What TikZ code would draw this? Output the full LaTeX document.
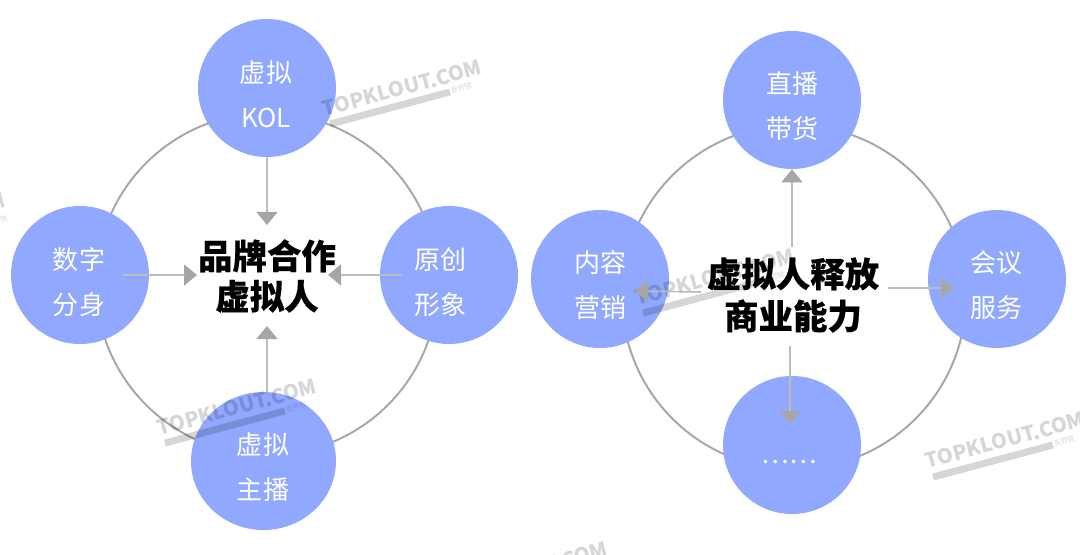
\documentclass[tikz,border=0pt]{standalone}
\usepackage{fontspec}
\setmainfont{Noto Sans CJK SC}
\newfontfamily\heavyfont[BoldFeatures={FakeBold=.35}]{Noto Sans CJK SC}
\usetikzlibrary{arrows.meta,shapes.geometric}
\definecolor{ballblue}{HTML}{91A8FF}
\definecolor{ringgray}{HTML}{A6A6A6}
\definecolor{shaftgray}{HTML}{BDBDBD}
\definecolor{markgray}{HTML}{D6D6D6}
\tikzset{
	ring/.style={circle,draw=ringgray,line width=1.1pt,inner sep=0pt},
	ball/.style={ellipse,fill=ballblue,inner sep=0pt,minimum width=2.76cm,minimum height=2.76cm},
	balltext/.style={text=white,align=center,font=\fontsize{14.8}{25.6}\selectfont},
	bigtitle/.style={text=black,align=center,font=\fontsize{19.6}{24}\selectfont\heavyfont\bfseries},
	stamp/.style={text=markgray,rotate=15,inner sep=0pt,font=\fontsize{11.6}{13}\selectfont\bfseries},
	stampbar/.style={fill=markgray,rotate=15,inner sep=0pt,minimum width=2.48cm,minimum height=.14cm},
	stampname/.style={text=markgray,rotate=15,inner sep=0pt,font=\fontsize{4}{5}\selectfont},
	flow/.style={draw=shaftgray,line width=.9pt,-{Triangle[length=.26cm,width=.42cm,color=ringgray]}}
}
\begin{document}
\begin{tikzpicture}
	\useasboundingbox (0,0) rectangle (21.6,11.08);
	% left diagram
	\node[ring,minimum size=6.84cm] (brandring) at (5.34,5.40) {};
	\node[ball] (kol) at (5.34,9.32) {};
	\node[ball] (twin) at (1.60,5.58) {};
	\node[ball] (ip) at (8.98,5.58) {};
	\node[ball,minimum width=2.90cm] (host) at (5.27,1.86) {};
	% right diagram
	\node[ring,minimum size=6.88cm] (powerring) at (15.88,5.14) {};
	\node[ball] (live) at (15.84,9.08) {};
	\node[ball] (content) at (12.00,5.50) {};
	\node[ball] (meeting) at (19.94,5.50) {};
	\node[ball] (more) at (15.84,2.18) {};
	% watermarks
	\begin{scope}[blend mode=multiply]
		\node[stamp] (stampa) at (8.04,9.32) {TOPKLOUT.COM};
		\node[stampbar] (stampabar) at (7.80,8.92) {};
		\node[stampname] (stampaname) at (9.22,9.32) {克劳锐};
		\node[stamp] (stampb) at (4.74,2.94) {TOPKLOUT.COM};
		\node[stampbar] (stampbbar) at (4.50,2.54) {};
		\node[stampname] (stampbname) at (5.92,2.94) {克劳锐};
		\node[stamp] (stampc) at (14.30,5.54) {TOPKLOUT.COM};
		\node[stampbar] (stampcbar) at (14.06,5.14) {};
		\node[stampname] (stampcname) at (15.48,5.54) {克劳锐};
		\node[stamp] (stampd) at (20.10,2.28) {TOPKLOUT.COM};
		\node[stampbar] (stampdbar) at (19.86,1.86) {};
		\node[stampname] (stampdname) at (21.28,2.26) {克劳锐};
		\node[stamp] (stampe) at (10.56,-.32) {TOPKLOUT.COM};
		\node[stamp] (stampf) at (-1.48,6.66) {TOPKLOUT.COM};
		\node[stampname] (stampfname) at (-.06,6.66) {克劳锐};
	\end{scope}
	% free arrow ends
	\coordinate (kolend) at (5.34,6.58);
	\coordinate (twinstart) at (2.46,5.58);
	\coordinate (twinend) at (3.94,5.58);
	\coordinate (ipstart) at (8.04,5.58);
	\coordinate (ipend) at (6.56,5.58);
	\coordinate (hoststart) at (5.34,3.24);
	\coordinate (hostend) at (5.34,4.56);
	\coordinate (livestart) at (15.84,6.14);
	\coordinate (contentstart) at (14.02,5.24);
	\coordinate (contentend) at (12.70,5.26);
	\coordinate (meetingstart) at (17.75,5.32);
	\coordinate (meetingend) at (19.08,5.32);
	\coordinate (morestart) at (15.80,4.16);
	\coordinate (moreend) at (15.80,2.60);
	\draw[flow] (kol.south) -- (kolend);
	\draw[flow] (twinstart) -- (twinend);
	\draw[flow] (ipstart) -- (ipend);
	\draw[flow] (hoststart) -- (hostend);
	\draw[flow] (livestart) -- (live.south);
	\draw[flow] (contentstart) -- (contentend);
	\draw[flow] (meetingstart) -- (meetingend);
	\draw[flow] (morestart) -- (moreend);
	% texts
	\node[balltext] (koltext) at (5.32,9.19) {虚拟\\KOL};
	\node[balltext] (twintext) at (1.58,5.44) {数字\\分身};
	\node[balltext] (iptext) at (8.81,5.44) {原创\\形象};
	\node[balltext] (hosttext) at (5.26,1.74) {虚拟\\主播};
	\node[balltext] (livetext) at (15.84,8.95) {直播\\带货};
	\node[balltext] (contenttext) at (12.00,5.38) {内容\\营销};
	\node[balltext] (meetingtext) at (19.92,5.38) {会议\\服务};
	\node[balltext] (moretext) at (15.78,1.84) {……};
	\node[bigtitle] (brandtitle) at (5.34,5.56) {品牌合作\\[-1pt]虚拟人};
	\node[bigtitle] (powertitle) at (15.86,5.18) {虚拟人释放\\商业能力};
\end{tikzpicture}
\end{document}
